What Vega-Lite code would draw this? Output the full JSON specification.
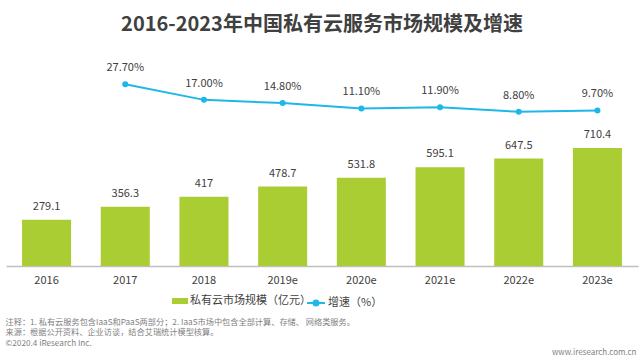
{
  "$schema": "https://vega.github.io/schema/vega-lite/v6.json",
  "width": 632,
  "height": 206,
  "autosize": "none",
  "padding": {"left": 6, "right": 2, "top": 60, "bottom": 96},
  "background": "white",
  "title": {
    "text": "2016-2023年中国私有云服务市场规模及增速",
    "font": "Noto Sans CJK SC",
    "fontSize": 20,
    "fontWeight": "bold",
    "color": "#404040",
    "anchor": "middle",
    "frame": "group",
    "offset": 3,
    "dy": 56
  },
  "config": {
    "view": {"stroke": null},
    "font": "Noto Sans CJK SC",
    "legend": {"labelFontSize": 11, "labelColor": "#404040", "padding": 0, "labelFont": "Noto Sans CJK SC"}
  },
  "data": {
    "values": [
      {"year": "2016", "value": 279.1, "rate": null},
      {"year": "2017", "value": 356.3, "rate": 0.277},
      {"year": "2018", "value": 417, "rate": 0.17},
      {"year": "2019e", "value": 478.7, "rate": 0.148},
      {"year": "2020e", "value": 531.8, "rate": 0.111},
      {"year": "2021e", "value": 595.1, "rate": 0.119},
      {"year": "2022e", "value": 647.5, "rate": 0.088},
      {"year": "2023e", "value": 710.4, "rate": 0.097}
    ]
  },
  "layer": [
    {
      "encoding": {
        "x": {
          "field": "year",
          "type": "nominal",
          "sort": null,
          "scale": {"paddingInner": 0.377, "paddingOuter": 0.204},
          "axis": {
            "title": [
              "注释：1. 私有云服务包含IaaS和PaaS两部分；2. IaaS市场中包含全部计算、存储、 网络类服务。",
              "来源：根据公开资料、企业访谈，结合艾瑞统计模型核算。",
              "",
              "©2020.4 iResearch Inc."
            ],
            "titleFontSize": 8.2,
            "titleFontWeight": "normal",
            "titleColor": "#7f7f7f",
            "titleAnchor": "start",
            "titleAlign": "left",
            "titleBaseline": "top",
            "titleX": -1,
            "titleY": 52,
            "titleLineHeight": 10.5,
            "labelAngle": 0,
            "labelFontSize": 11,
            "labelColor": "#404040",
            "labelPadding": 8,
            "ticks": false,
            "grid": false,
            "domainColor": "#bfbfbf",
            "domainWidth": 1.5
          }
        },
        "y": {
          "field": "value",
          "type": "quantitative",
          "scale": {"domain": [0, 1241], "nice": false},
          "axis": null
        }
      },
      "layer": [
        {
          "mark": {"type": "bar"},
          "encoding": {
            "color": {
              "datum": "私有云市场规模（亿元）",
              "type": "nominal",
              "scale": {"range": ["#AACD33"]},
              "legend": {
                "title": null,
                "orient": "none",
                "legendX": 166,
                "legendY": 233,
                "symbolType": "M-1,-0.375H1V0.375H-1Z",
                "symbolSize": 256,
                "symbolStrokeWidth": 0,
                "labelOffset": 2
              }
            }
          }
        },
        {
          "mark": {"type": "text", "baseline": "bottom", "dy": -8, "fontSize": 11, "color": "#404040"},
          "encoding": {"text": {"field": "value", "type": "quantitative"}}
        }
      ]
    },
    {
      "transform": [{"filter": "datum.rate != null"}],
      "encoding": {
        "x": {
          "field": "year",
          "type": "nominal",
          "sort": null,
          "scale": {"paddingInner": 0.377, "paddingOuter": 0.204},
          "axis": {
            "labels": false,
            "ticks": false,
            "grid": false,
            "title": null,
            "offset": 78,
            "domainColor": "#bfbfbf",
            "domainWidth": 2
          }
        },
        "y": {
          "field": "rate",
          "type": "quantitative",
          "scale": {"domain": [-0.976, 0.445], "nice": false, "zero": false},
          "axis": {
            "orient": "right",
            "labels": false,
            "ticks": false,
            "domain": false,
            "grid": false,
            "title": "www.iresearch.com.cn",
            "titleAngle": 0,
            "titleAlign": "right",
            "titleBaseline": "middle",
            "titleX": -2,
            "titleY": 292,
            "titleFontSize": 8,
            "titleFontWeight": "normal",
            "titleColor": "#7f7f7f"
          }
        }
      },
      "layer": [
        {
          "mark": {"type": "line", "strokeWidth": 2, "point": {"filled": true, "size": 36}},
          "encoding": {
            "color": {
              "datum": "增速（%）",
              "type": "nominal",
              "scale": {"range": ["#1EB8E8"]},
              "legend": {
                "title": null,
                "orient": "none",
                "legendX": 300,
                "legendY": 233,
                "symbolType": "M-1,0H1M-0.28,0A0.28,0.28 0 1,0 0.28,0A0.28,0.28 0 1,0 -0.28,0Z",
                "symbolSize": 324,
                "symbolStrokeWidth": 2,
                "symbolFillColor": "#1EB8E8",
                "symbolStrokeColor": "#1EB8E8",
                "labelOffset": 2
              }
            }
          }
        },
        {
          "mark": {"type": "text", "baseline": "middle", "dy": -16, "fontSize": 11, "color": "#404040"},
          "encoding": {"text": {"field": "rate", "type": "quantitative", "format": ".2%"}}
        }
      ]
    }
  ],
  "resolve": {
    "scale": {"y": "independent", "color": "independent"},
    "axis": {"x": "independent", "y": "independent"}
  }
}
